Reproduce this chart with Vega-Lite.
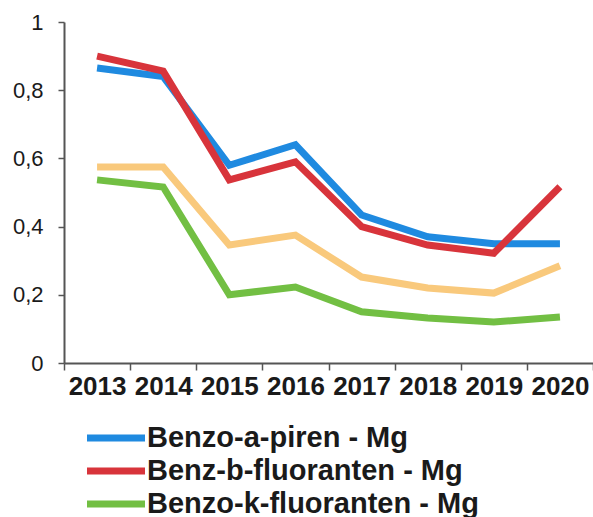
{
  "$schema": "https://vega.github.io/schema/vega-lite/v6.json",
  "width": 529,
  "height": 341,
  "autosize": "none",
  "padding": {"left": 64, "top": 22, "right": 0, "bottom": 154},
  "background": "white",
  "data": {
    "values": [
      {"year": "2013", "series": "Benzo-a-piren - Mg", "value": 0.865},
      {"year": "2014", "series": "Benzo-a-piren - Mg", "value": 0.84},
      {"year": "2015", "series": "Benzo-a-piren - Mg", "value": 0.58},
      {"year": "2016", "series": "Benzo-a-piren - Mg", "value": 0.64},
      {"year": "2017", "series": "Benzo-a-piren - Mg", "value": 0.434},
      {"year": "2018", "series": "Benzo-a-piren - Mg", "value": 0.37},
      {"year": "2019", "series": "Benzo-a-piren - Mg", "value": 0.35},
      {"year": "2020", "series": "Benzo-a-piren - Mg", "value": 0.35},
      {"year": "2013", "series": "Benz-b-fluoranten - Mg", "value": 0.9},
      {"year": "2014", "series": "Benz-b-fluoranten - Mg", "value": 0.856},
      {"year": "2015", "series": "Benz-b-fluoranten - Mg", "value": 0.537},
      {"year": "2016", "series": "Benz-b-fluoranten - Mg", "value": 0.59},
      {"year": "2017", "series": "Benz-b-fluoranten - Mg", "value": 0.4},
      {"year": "2018", "series": "Benz-b-fluoranten - Mg", "value": 0.346},
      {"year": "2019", "series": "Benz-b-fluoranten - Mg", "value": 0.322},
      {"year": "2020", "series": "Benz-b-fluoranten - Mg", "value": 0.517},
      {"year": "2013", "series": "Indeno-piren - Mg", "value": 0.575},
      {"year": "2014", "series": "Indeno-piren - Mg", "value": 0.575},
      {"year": "2015", "series": "Indeno-piren - Mg", "value": 0.346},
      {"year": "2016", "series": "Indeno-piren - Mg", "value": 0.375},
      {"year": "2017", "series": "Indeno-piren - Mg", "value": 0.252},
      {"year": "2018", "series": "Indeno-piren - Mg", "value": 0.22},
      {"year": "2019", "series": "Indeno-piren - Mg", "value": 0.205},
      {"year": "2020", "series": "Indeno-piren - Mg", "value": 0.285},
      {"year": "2013", "series": "Benzo-k-fluoranten - Mg", "value": 0.537},
      {"year": "2014", "series": "Benzo-k-fluoranten - Mg", "value": 0.516},
      {"year": "2015", "series": "Benzo-k-fluoranten - Mg", "value": 0.2},
      {"year": "2016", "series": "Benzo-k-fluoranten - Mg", "value": 0.223},
      {"year": "2017", "series": "Benzo-k-fluoranten - Mg", "value": 0.15},
      {"year": "2018", "series": "Benzo-k-fluoranten - Mg", "value": 0.132},
      {"year": "2019", "series": "Benzo-k-fluoranten - Mg", "value": 0.12},
      {"year": "2020", "series": "Benzo-k-fluoranten - Mg", "value": 0.135}
    ]
  },
  "mark": {"type": "line", "strokeCap": "butt", "strokeJoin": "miter"},
  "encoding": {
    "x": {
      "field": "year",
      "type": "ordinal",
      "bandPosition": 0.5,
      "scale": {"type": "band", "paddingInner": 0, "paddingOuter": 0},
      "axis": {
        "title": null,
        "labelAngle": 0,
        "tickBand": "extent",
        "labelFont": "Liberation Sans",
        "labelFontWeight": "bold",
        "labelFontSize": 26,
        "labelColor": "#1a1a1a",
        "labelPadding": 3,
        "tickSize": 7,
        "tickColor": "#555",
        "tickWidth": 1.5,
        "domainColor": "#555",
        "domainWidth": 2,
        "grid": false
      }
    },
    "y": {
      "field": "value",
      "type": "quantitative",
      "scale": {"domain": [0, 1], "nice": false},
      "axis": {
        "title": null,
        "values": [0, 0.2, 0.4, 0.6, 0.8, 1],
        "format": ".1~f",
        "labelExpr": "replace(datum.label, '.', ',')",
        "labelFont": "Liberation Sans",
        "labelFontSize": 22,
        "labelColor": "#1a1a1a",
        "labelPadding": 15,
        "tickSize": 6,
        "tickColor": "#555",
        "tickWidth": 1.5,
        "domainColor": "#555",
        "domainWidth": 2,
        "grid": false
      }
    },
    "color": {
      "field": "series",
      "type": "nominal",
      "scale": {
        "domain": ["Benzo-a-piren - Mg", "Benz-b-fluoranten - Mg", "Indeno-piren - Mg", "Benzo-k-fluoranten - Mg"],
        "range": ["#1f8ae0", "#d8343b", "#f9c97c", "#72bf43"]
      },
      "legend": {
        "title": null,
        "orient": "none",
        "legendX": 34,
        "legendY": 398,
        "direction": "vertical",
        "values": ["Benzo-a-piren - Mg", "Benz-b-fluoranten - Mg", "Benzo-k-fluoranten - Mg"],
        "symbolType": "M-2,0H2",
        "symbolSize": 841,
        "symbolStrokeWidth": 5,
        "symbolFillColor": "transparent",
        "labelFont": "Liberation Sans",
        "labelFontWeight": "bold",
        "labelFontSize": 29,
        "labelColor": "#1a1a1a",
        "labelOffset": 13,
        "labelLimit": 500,
        "rowPadding": -3.5,
        "padding": 0
      }
    },
    "strokeWidth": {
      "field": "series",
      "type": "nominal",
      "scale": {
        "domain": ["Benzo-a-piren - Mg", "Benz-b-fluoranten - Mg", "Indeno-piren - Mg", "Benzo-k-fluoranten - Mg"],
        "range": [7, 7, 4, 5]
      },
      "legend": null
    }
  },
  "config": {"view": {"stroke": null}}
}
